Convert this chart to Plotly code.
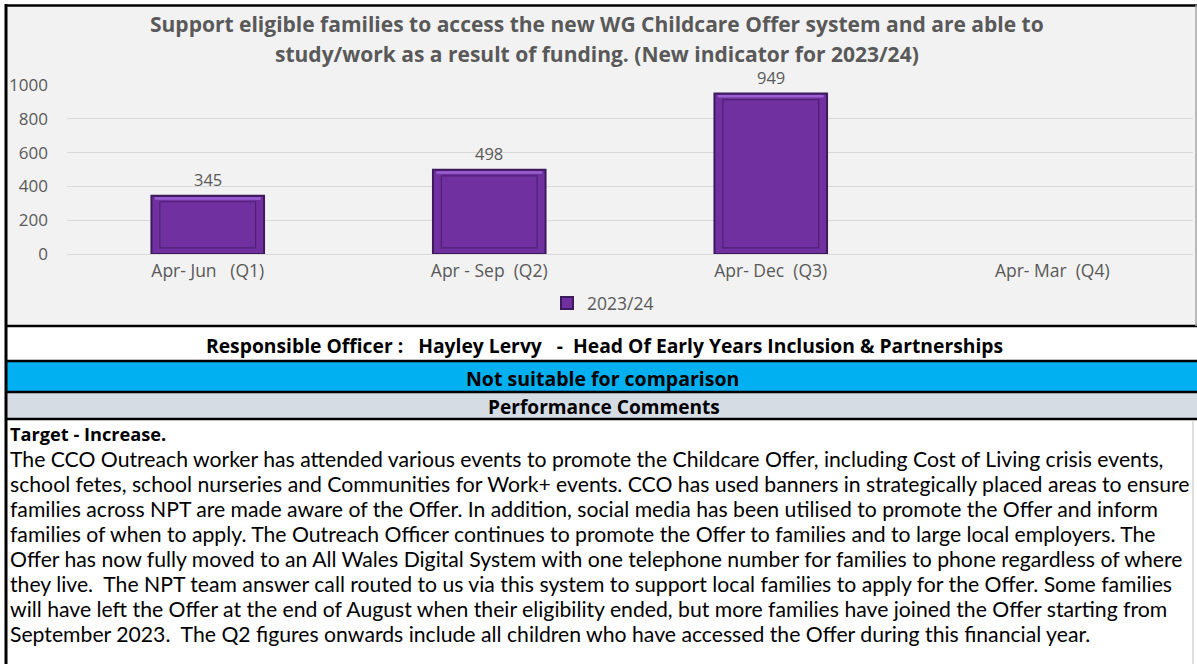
import plotly.graph_objects as go

W, H = 1197, 664
NB = "\u00a0"

categories = ["Apr-" + NB + "Jun" + NB * 3 + "(Q1)",
              "Apr" + NB + "-" + NB + "Sep" + NB * 2 + "(Q2)",
              "Apr-" + NB + "Dec" + NB * 2 + "(Q3)",
              "Apr-" + NB + "Mar" + NB * 2 + "(Q4)"]
values_2023_24 = [345, 498, 949, None]
series_name = "2023/24"
y_ticks = [0, 200, 400, 600, 800, 1000]

title_lines = ["Support eligible families to access the new WG Childcare Offer system and are able to",
               "study/work as a result of funding. (New indicator for 2023/24)"]
officer_text = ("Responsible Officer :" + NB * 3 + "Hayley Lervy" + NB * 3 + "-" + NB * 2 +
                "Head Of Early Years Inclusion & Partnerships")
comparison_text = "Not suitable for comparison"
comments_header = "Performance Comments"
target_text = "Target - Increase."
comment_lines = [
    "The CCO Outreach worker has attended various events to promote the Childcare Offer, including Cost of Living crisis events,",
    "school fetes, school nurseries and Communities for Work+ events. CCO has used banners in strategically placed areas to ensure",
    "families across NPT are made aware of the Offer. In addition, social media has been utilised to promote the Offer and inform",
    "families of when to apply. The Outreach Officer continues to promote the Offer to families and to large local employers. The",
    "Offer has now fully moved to an All Wales Digital System with one telephone number for families to phone regardless of where",
    "they live." + NB * 2 + "The NPT team answer call routed to us via this system to support local families to apply for the Offer. Some families",
    "will have left the Offer at the end of August when their eligibility ended, but more families have joined the Offer starting from",
    "September 2023." + NB * 2 + "The Q2 figures onwards include all children who have accessed the Offer during this financial year.",
]

FONT = "Open Sans"
BODY_FONT = "Lato"
GRAY = "#595959"
PURPLE = "#7030a0"


def X(px):
    return px / W


def Y(py):
    return 1 - py / H


fig = go.Figure()
fig.add_trace(go.Bar(
    x=categories, y=values_2023_24, name=series_name, width=0.4,
    marker=dict(color=PURPLE, line=dict(color="#3d1a5c", width=2)),
    showlegend=True,
))

shapes = []
annotations = []

# background panels
shapes.append(dict(type="rect", xref="paper", yref="paper", x0=X(5), x1=X(1197), y0=Y(5), y1=Y(326),
                   fillcolor="#f2f2f2", line=dict(width=0), layer="below"))
shapes.append(dict(type="rect", xref="paper", yref="paper", x0=X(5), x1=X(1197), y0=Y(361), y1=Y(392),
                   fillcolor="#00b0f0", line=dict(width=0), layer="below"))
shapes.append(dict(type="rect", xref="paper", yref="paper", x0=X(5), x1=X(1197), y0=Y(392), y1=Y(419),
                   fillcolor="#d6dce4", line=dict(width=0), layer="below"))

# bevel details on bars, derived from data
for i, v in enumerate(values_2023_24):
    if v is None:
        continue
    dx = 0.4 / 2
    ins_x = 0.03
    ins_y = 6 / 0.168
    shapes.append(dict(type="rect", xref="x", yref="y", x0=i - dx + ins_x, x1=i + dx - ins_x,
                       y0=ins_y, y1=v - ins_y, line=dict(color="#4e2174", width=1.2), fillcolor="rgba(0,0,0,0)"))
    shapes.append(dict(type="line", xref="x", yref="y", x0=i - dx + 0.012, x1=i + dx - 0.012,
                       y0=v - ins_y * 0.45, y1=v - ins_y * 0.45, line=dict(color="#9a5fd0", width=2.5)))
    annotations.append(dict(x=i, y=v, xref="x", yref="y", text=str(v), showarrow=False,
                            yanchor="bottom", yshift=3, font=dict(family=FONT, size=16.5, color=GRAY)))

# borders
def hline(py, w=2.5, color="black", x0=5, x1=1197):
    shapes.append(dict(type="line", xref="paper", yref="paper", x0=X(x0), x1=X(x1), y0=Y(py), y1=Y(py),
                       line=dict(color=color, width=w)))

hline(5.5)
hline(326)
hline(361)
hline(392)
hline(419)
shapes.append(dict(type="line", xref="paper", yref="paper", x0=X(6), x1=X(6), y0=Y(4), y1=Y(664),
                   line=dict(color="black", width=3)))
shapes.append(dict(type="line", xref="paper", yref="paper", x0=X(1196), x1=X(1196), y0=Y(5), y1=Y(326),
                   line=dict(color="#a6a6a6", width=1.5)))
shapes.append(dict(type="line", xref="paper", yref="paper", x0=X(1193), x1=X(1193), y0=Y(420), y1=Y(664),
                   line=dict(color="#bfbfbf", width=1)))


def ann(px, py, text, size, color="black", xanchor="center", family=FONT):
    annotations.append(dict(x=X(px), y=Y(py), xref="paper", yref="paper", text=text, showarrow=False,
                            xanchor=xanchor, yanchor="middle", font=dict(family=family, size=size, color=color)))


# title
for k, line in enumerate(title_lines):
    ann(597, 24 + 29.5 * k, "<b>" + line + "</b>", 21, GRAY)

# rows
ann(604, 345, "<b>" + officer_text + "</b>", 19.3)
ann(602, 378, "<b>" + comparison_text + "</b>", 19.5)
ann(604, 407, "<b>" + comments_header + "</b>", 19.1)
ann(8, 434, "<b>" + target_text + "</b>", 18.2, xanchor="left")
for k, line in enumerate(comment_lines):
    ann(8, 459 + 25 * k, line, 21.2, xanchor="left", family=BODY_FONT)

fig.update_layout(
    width=W, height=H, margin=dict(l=0, r=0, t=0, b=0, autoexpand=False),
    paper_bgcolor="white", plot_bgcolor="rgba(0,0,0,0)",
    bargap=0.6,
    xaxis=dict(domain=[X(67), X(1193)], showgrid=False, showline=False, zeroline=False,
               tickfont=dict(family=FONT, size=17.5, color=GRAY), ticks="", ticklabelstandoff=4,
               fixedrange=True, automargin=False),
    yaxis=dict(domain=[Y(254), Y(85)], range=[0, 1000], tickvals=y_ticks, showgrid=True,
               gridcolor="#d9d9d9", gridwidth=1, zeroline=True, zerolinecolor="#d9d9d9", zerolinewidth=1,
               showline=False, ticks="", ticklabelstandoff=18, automargin=False,
               tickfont=dict(family=FONT, size=17, color=GRAY)),
    legend=dict(orientation="h", x=X(603), xanchor="center", y=Y(303), yanchor="middle",
                font=dict(family=FONT, size=17.5, color=GRAY), bgcolor="rgba(0,0,0,0)",
                itemwidth=30, tracegroupgap=0),
    shapes=shapes, annotations=annotations,
)

fig.write_html(
    "out.html",
    config={"displayModeBar": False},
    post_script="document.body.style.margin='0';document.body.style.overflow='hidden';",
)
